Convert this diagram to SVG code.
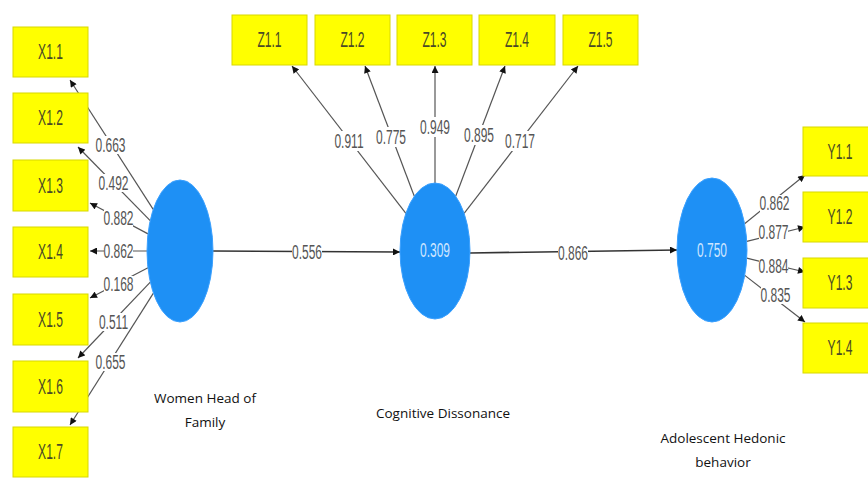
<svg xmlns="http://www.w3.org/2000/svg" width="868" height="478" viewBox="0 0 868 478">
  <style>
    .ind rect { fill: #ffff00; stroke: #d8d800; stroke-width: 1; }
    .ind text { font-family: "Liberation Sans", Arial, sans-serif; font-size: 22px; fill: #4a4a26; text-anchor: middle; dominant-baseline: central; }
    .lv ellipse { fill: #1e90f5; stroke: #3aa0ff; stroke-width: 1; }
    .lv text.r2 { font-family: "Liberation Sans", Arial, sans-serif; font-size: 20px; fill: #cfe6ff; text-anchor: middle; dominant-baseline: central; }
    .name { font-family: "Open Sans", "Liberation Sans", sans-serif; font-size: 13.5px; fill: #111; text-anchor: middle; }
    .load { stroke: #555; stroke-width: 1.2; fill: none; marker-end: url(#ah); }
    .path { stroke: #333; stroke-width: 1.6; fill: none; marker-end: url(#ah); }
    .lbl rect { fill: #fff; }
    .lbl text { font-family: "Liberation Sans", Arial, sans-serif; font-size: 20px; fill: #555; text-anchor: middle; dominant-baseline: central; }
  </style>
  <defs>
    <marker id="ah" viewBox="0 0 10 10" refX="10" refY="5" markerWidth="8" markerHeight="7" markerUnits="userSpaceOnUse" orient="auto">
      <path d="M0,0 L10,5 L0,10 z" fill="#111"/>
    </marker>
  </defs>

  <rect width="868" height="478" fill="#fff"/>

  <!-- connectors -->
  <g id="connectors">
    <!-- Women Head of Family -> X indicators -->
    <line class="load" x1="153.2" y1="209.4" x2="70" y2="80"/>
    <line class="load" x1="150.2" y1="220.6" x2="78" y2="147"/>
    <line class="load" x1="148" y1="233.9" x2="90" y2="203"/>
    <line class="load" x1="147" y1="251" x2="90" y2="251"/>
    <line class="load" x1="148" y1="267.7" x2="90" y2="298"/>
    <line class="load" x1="150.3" y1="282.1" x2="78" y2="358"/>
    <line class="load" x1="153.4" y1="293.1" x2="70" y2="425"/>
    <!-- Cognitive Dissonance -> Z indicators -->
    <line class="load" x1="405.9" y1="213.3" x2="292" y2="66"/>
    <line class="load" x1="414.3" y1="196.2" x2="365" y2="66"/>
    <line class="load" x1="435" y1="183" x2="435" y2="66"/>
    <line class="load" x1="455.7" y1="196.2" x2="505" y2="66"/>
    <line class="load" x1="464.1" y1="213.3" x2="578" y2="66"/>
    <!-- Adolescent Hedonic behavior -> Y indicators -->
    <line class="load" x1="744.6" y1="223.7" x2="805" y2="175"/>
    <line class="load" x1="746.8" y1="241.4" x2="805" y2="227"/>
    <line class="load" x1="746.8" y1="258.2" x2="805" y2="272"/>
    <line class="load" x1="744.8" y1="275.4" x2="805" y2="322"/>
    <!-- structural paths -->
    <line class="path" x1="213" y1="251" x2="400" y2="252"/>
    <line class="path" x1="470" y1="253" x2="677" y2="250"/>

    <!-- coefficient labels -->
    <g class="lbl">
      <rect x="96" y="136" width="29" height="18"/><text transform="translate(110.5,145) scale(0.6,1)">0.663</text>
      <rect x="99" y="174" width="29" height="18"/><text transform="translate(113.5,183) scale(0.6,1)">0.492</text>
      <rect x="104" y="210" width="29" height="17"/><text transform="translate(118.5,218) scale(0.6,1)">0.882</text>
      <rect x="104" y="243" width="29" height="17"/><text transform="translate(118.5,251) scale(0.6,1)">0.862</text>
      <rect x="104" y="276" width="29" height="17"/><text transform="translate(118.5,284) scale(0.6,1)">0.168</text>
      <rect x="99" y="313" width="29" height="18"/><text transform="translate(113.5,322) scale(0.6,1)">0.511</text>
      <rect x="96" y="353" width="29" height="18"/><text transform="translate(110.5,362) scale(0.6,1)">0.655</text>

      <rect x="334" y="131" width="30" height="20"/><text transform="translate(349,141) scale(0.6,1)">0.911</text>
      <rect x="376" y="127" width="30" height="20"/><text transform="translate(391,137) scale(0.6,1)">0.775</text>
      <rect x="420" y="117" width="30" height="20"/><text transform="translate(435,127) scale(0.6,1)">0.949</text>
      <rect x="464" y="125" width="30" height="20"/><text transform="translate(479,135) scale(0.6,1)">0.895</text>
      <rect x="505" y="131" width="30" height="20"/><text transform="translate(520,141) scale(0.6,1)">0.717</text>

      <rect x="760" y="195" width="29" height="17"/><text transform="translate(774.5,203) scale(0.6,1)">0.862</text>
      <rect x="759" y="224" width="29" height="16"/><text transform="translate(773.5,232) scale(0.6,1)">0.877</text>
      <rect x="759" y="258" width="29" height="16"/><text transform="translate(773.5,266) scale(0.6,1)">0.884</text>
      <rect x="761" y="287" width="29" height="17"/><text transform="translate(775.5,295) scale(0.6,1)">0.835</text>

      <rect x="292" y="243" width="30" height="18"/><text transform="translate(307,252) scale(0.6,1)">0.556</text>
      <rect x="558" y="244" width="30" height="18"/><text transform="translate(573,253) scale(0.6,1)">0.866</text>
    </g>
  </g>

  <!-- latent variables -->
  <g id="women-head-of-family" class="lv">
    <ellipse cx="180" cy="251" rx="33" ry="71"/>
    <text class="name" x="205" y="403">Women Head of</text>
    <text class="name" x="205" y="427">Family</text>
  </g>
  <g id="cognitive-dissonance" class="lv">
    <ellipse cx="435" cy="251" rx="35" ry="68"/>
    <text class="r2" transform="translate(435,250) scale(0.6,1)">0.309</text>
    <text class="name" x="443" y="418">Cognitive Dissonance</text>
  </g>
  <g id="adolescent-hedonic-behavior" class="lv">
    <ellipse cx="712" cy="250" rx="35" ry="72"/>
    <text class="r2" transform="translate(712,250) scale(0.6,1)">0.750</text>
    <text class="name" x="723" y="443">Adolescent Hedonic</text>
    <text class="name" x="723" y="467">behavior</text>
  </g>

  <!-- indicators: X -->
  <g id="X1.1" class="ind"><rect x="13" y="27" width="75" height="50"/><text transform="translate(50.5,52) scale(0.55,1)">X1.1</text></g>
  <g id="X1.2" class="ind"><rect x="13" y="93" width="75" height="50"/><text transform="translate(50.5,118) scale(0.55,1)">X1.2</text></g>
  <g id="X1.3" class="ind"><rect x="13" y="160" width="75" height="51"/><text transform="translate(50.5,185.5) scale(0.55,1)">X1.3</text></g>
  <g id="X1.4" class="ind"><rect x="13" y="227" width="75" height="50"/><text transform="translate(50.5,252) scale(0.55,1)">X1.4</text></g>
  <g id="X1.5" class="ind"><rect x="13" y="294" width="75" height="51"/><text transform="translate(50.5,319.5) scale(0.55,1)">X1.5</text></g>
  <g id="X1.6" class="ind"><rect x="13" y="361" width="75" height="51"/><text transform="translate(50.5,386.5) scale(0.55,1)">X1.6</text></g>
  <g id="X1.7" class="ind"><rect x="13" y="427" width="75" height="50"/><text transform="translate(50.5,452) scale(0.55,1)">X1.7</text></g>

  <!-- indicators: Z -->
  <g id="Z1.1" class="ind"><rect x="232" y="15" width="75" height="50"/><text transform="translate(269.5,40) scale(0.55,1)">Z1.1</text></g>
  <g id="Z1.2" class="ind"><rect x="315" y="15" width="75" height="50"/><text transform="translate(352.5,40) scale(0.55,1)">Z1.2</text></g>
  <g id="Z1.3" class="ind"><rect x="397" y="15" width="75" height="50"/><text transform="translate(434.5,40) scale(0.55,1)">Z1.3</text></g>
  <g id="Z1.4" class="ind"><rect x="479" y="15" width="76" height="50"/><text transform="translate(517,40) scale(0.55,1)">Z1.4</text></g>
  <g id="Z1.5" class="ind"><rect x="563" y="15" width="75" height="50"/><text transform="translate(600.5,40) scale(0.55,1)">Z1.5</text></g>

  <!-- indicators: Y -->
  <g id="Y1.1" class="ind"><rect x="803" y="127" width="75" height="49"/><text transform="translate(840,151.5) scale(0.55,1)">Y1.1</text></g>
  <g id="Y1.2" class="ind"><rect x="803" y="192" width="75" height="50"/><text transform="translate(840,217) scale(0.55,1)">Y1.2</text></g>
  <g id="Y1.3" class="ind"><rect x="803" y="258" width="75" height="50"/><text transform="translate(840,283) scale(0.55,1)">Y1.3</text></g>
  <g id="Y1.4" class="ind"><rect x="803" y="323" width="75" height="50"/><text transform="translate(840,348) scale(0.55,1)">Y1.4</text></g>
</svg>
